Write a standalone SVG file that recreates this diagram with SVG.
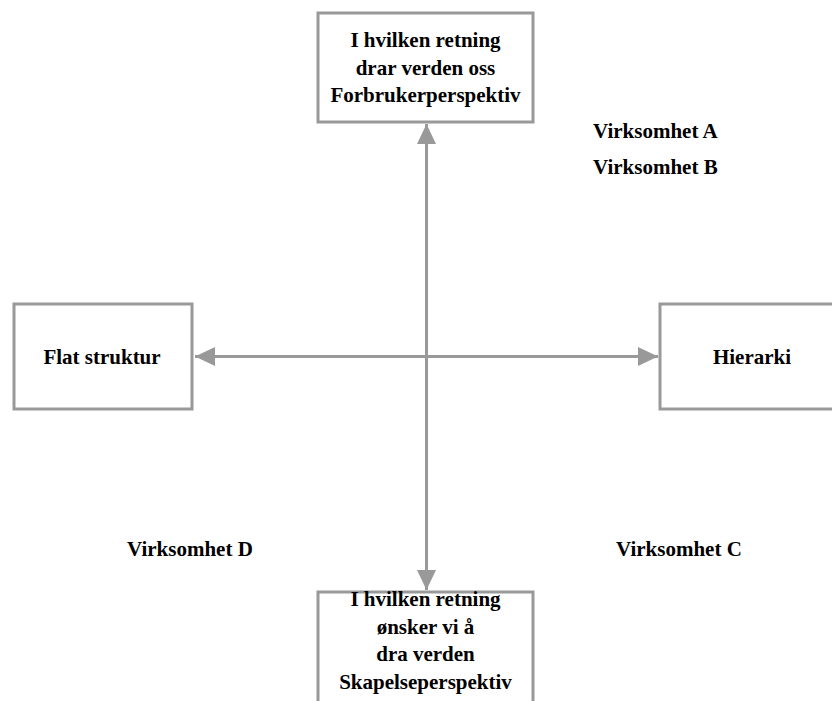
<svg xmlns="http://www.w3.org/2000/svg" width="832" height="701" viewBox="0 0 832 701">
<style>
.box{fill:#fff;stroke:#999;stroke-width:3}
.t{font-family:"Liberation Serif","Times New Roman",serif;font-weight:bold;font-size:21px;fill:#000}
.c{text-anchor:middle}
.ln{stroke:#999;stroke-width:3;fill:none}
</style>
<defs>
<marker id="ah" markerUnits="userSpaceOnUse" markerWidth="22" markerHeight="20" refX="20" refY="9.5" orient="auto-start-reverse" viewBox="0 0 22 20">
<path d="M0,0 L20,9.5 L0,19 Z" fill="#999"/>
</marker>
</defs>
<rect width="832" height="701" fill="#fff"/>
<g id="connectors">
<line class="ln" x1="426.5" y1="590" x2="426.5" y2="124" marker-start="url(#ah)" marker-end="url(#ah)"/>
<line class="ln" x1="195" y1="356.5" x2="658" y2="356.5" marker-start="url(#ah)" marker-end="url(#ah)"/>
</g>
<g id="top">
<rect class="box" x="318" y="13" width="215" height="109"/>
<text class="t c" x="425.5" y="47">I hvilken retning</text>
<text class="t c" x="425.5" y="75">drar verden oss</text>
<text class="t c" x="425.5" y="102">Forbrukerperspektiv</text>
</g>
<g id="left">
<rect class="box" x="14" y="304" width="178" height="105"/>
<text class="t c" x="102" y="364">Flat struktur</text>
</g>
<g id="right">
<rect class="box" x="660" y="304" width="184" height="105"/>
<text class="t c" x="752" y="364">Hierarki</text>
</g>
<g id="bottom">
<rect class="box" x="318" y="592" width="215" height="120"/>
<text class="t c" x="425.5" y="606">I hvilken retning</text>
<text class="t c" x="425.5" y="634">ønsker vi å</text>
<text class="t c" x="425.5" y="661">dra verden</text>
<text class="t c" x="425.5" y="689">Skapelseperspektiv</text>
</g>
<g id="labels">
<text class="t" x="593" y="138">Virksomhet A</text>
<text class="t" x="593" y="174">Virksomhet B</text>
<text class="t" x="127" y="556">Virksomhet D</text>
<text class="t" x="616" y="556">Virksomhet C</text>
</g>
</svg>
